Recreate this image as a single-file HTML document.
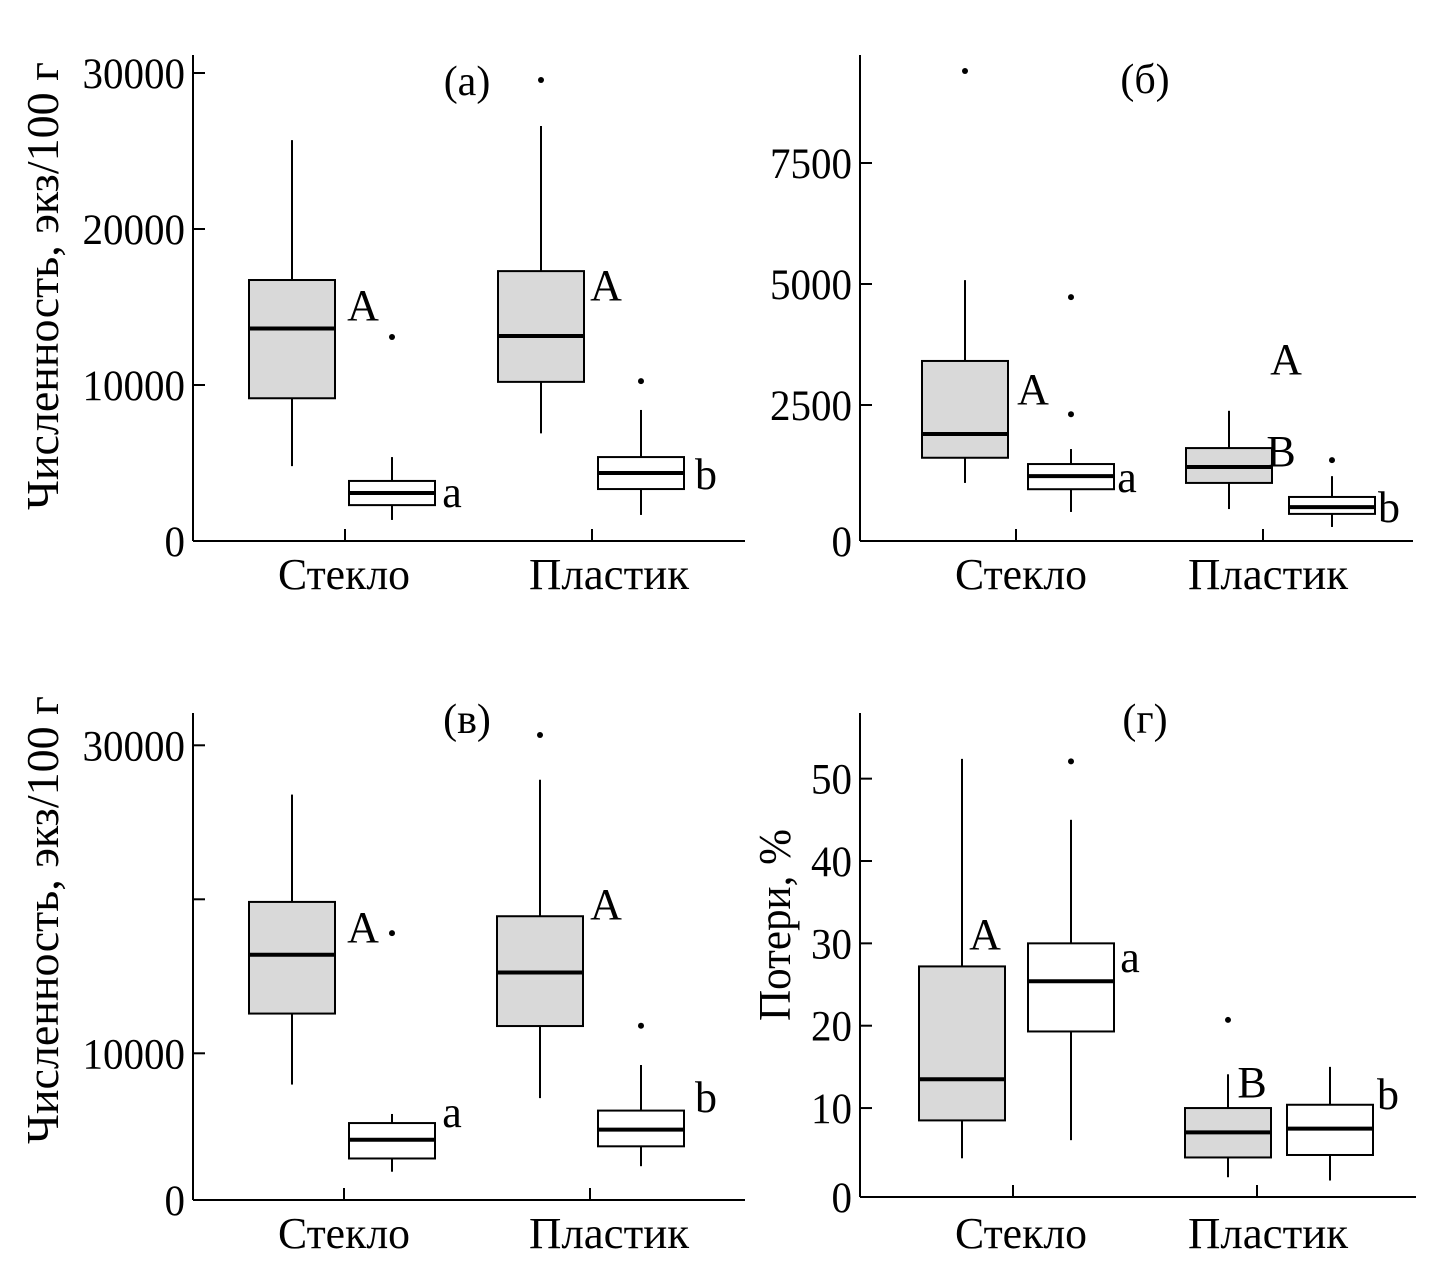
<!DOCTYPE html>
<html><head><meta charset="utf-8"><style>
html,body{margin:0;padding:0;background:#fff;}
svg{display:block;font-family:"Liberation Serif",serif;}
</style></head><body>
<svg id="chart" width="1453" height="1287" viewBox="0 0 1453 1287" xmlns="http://www.w3.org/2000/svg"></svg>
<script>
// ---- data (box order: glass-gray, glass-white, plastic-gray, plastic-white)
const categories = ["Стекло", "Пластик"];
const a_lo  = [4800, 1350, 6900, 1670];
const a_q1  = [9150, 2300, 10200, 3330];
const a_med = [13620, 3080, 13140, 4360];
const a_q3  = [16730, 3850, 17300, 5380];
const a_hi  = [25700, 5380, 26600, 8400];
const a_out = [[], [13080], [29550], [10250]];
const a_ticks = [0, 10000, 20000, 30000];
const a_tickLabels = ["0", "10000", "20000", "30000"];
const a_letters = ["A", "a", "A", "b"];

const b_lo  = [890, 290, 350, -20];
const b_q1  = [1410, 760, 890, 250];
const b_med = [1900, 1030, 1220, 390];
const b_q3  = [3410, 1280, 1610, 600];
const b_hi  = [5080, 1590, 2380, 1030];
const b_out = [[9400], [4730, 2310], [], [1360]];
const b_ticks = [0, 2500, 5000, 7500];
const b_tickLabels = ["0", "2500", "5000", "7500"];
const b_letters = ["A", "a", "B", "b", "A"];

const c_lo  = [7970, 2310, 7090, 2670];
const c_q1  = [12580, 3170, 11770, 3960];
const c_med = [16400, 4390, 15250, 5040];
const c_q3  = [19830, 5470, 18900, 6280];
const c_hi  = [26800, 6060, 27760, 9240];
const c_out = [[], [17800], [30670], [11790]];
const c_ticks = [0, 10000, 20000, 30000];
const c_tickLabels = ["0", "10000", "", "30000"];
const c_letters = ["A", "a", "A", "b"];

const d_lo  = [3.9, 6.1, 1.6, 1.2];
const d_q1  = [8.5, 19.3, 4.0, 4.3];
const d_med = [13.5, 25.4, 7.05, 7.5];
const d_q3  = [27.2, 30.0, 10.0, 10.4];
const d_hi  = [52.4, 45.0, 14.1, 15.0];
const d_out = [[], [52.1], [20.7], []];
const d_ticks = [0, 10, 20, 30, 40, 50];
const d_tickLabels = ["0", "10", "20", "30", "40", "50"];
const d_letters = ["A", "a", "B", "b"];

const NS = "http://www.w3.org/2000/svg";
const svg = document.getElementById("chart");
function mk(tag, attrs, parent, text){
  const e = document.createElementNS(NS, tag);
  for (const k in attrs) e.setAttribute(k, attrs[k]);
  if (text !== undefined) e.textContent = text;
  (parent || svg).appendChild(e);
  return e;
}

const panels = [
  {id:"a", title:"(а)", titleX:467, titleY:95, ax:193, axEnd:745, top:55, axisY:541,
   y0:541, k:0.0156, catX:[345,592], catLabelX:[344,609], catLabelY:589,
   centers:[292,392,541,641],
   lo:a_lo,q1:a_q1,med:a_med,q3:a_q3,hi:a_hi,out:a_out,ticks:a_ticks,tl:a_tickLabels,
   letters:a_letters, letterPos:[[363,320],[452,507],[606,300],[706,489]],
   ylabel:"Численность, экз/100 г", ylx:58, yly:286},
  {id:"b", title:"(б)", titleX:1145, titleY:93, ax:860, axEnd:1413, top:55, axisY:541,
   y0:526, k:0.0484, catX:[1016,1263], catLabelX:[1021,1268], catLabelY:589,
   centers:[965,1071,1229,1332],
   lo:b_lo,q1:b_q1,med:b_med,q3:b_q3,hi:b_hi,out:b_out,ticks:b_ticks,tl:b_tickLabels,
   letters:b_letters, letterPos:[[1033,404],[1127,492],[1281,466],[1389,522],[1286,374]],
   ylabel:null},
  {id:"c", title:"(в)", titleX:467, titleY:733, ax:193, axEnd:745, top:713, axisY:1200,
   y0:1207.3, k:0.0154, catX:[344,590], catLabelX:[344,609], catLabelY:1248,
   centers:[292,392,540,641],
   lo:c_lo,q1:c_q1,med:c_med,q3:c_q3,hi:c_hi,out:c_out,ticks:c_ticks,tl:c_tickLabels,
   letters:c_letters, letterPos:[[363,942],[452,1127],[606,919],[706,1112]],
   ylabel:"Численность, экз/100 г", ylx:58, yly:920},
  {id:"d", title:"(г)", titleX:1145, titleY:733, ax:860, axEnd:1416, top:713, axisY:1197,
   y0:1190.4, k:8.235, catX:[1013,1257], catLabelX:[1021,1268], catLabelY:1248,
   centers:[962,1071,1228,1330],
   lo:d_lo,q1:d_q1,med:d_med,q3:d_q3,hi:d_hi,out:d_out,ticks:d_ticks,tl:d_tickLabels,
   letters:d_letters, letterPos:[[985,949],[1130,972],[1252,1097],[1388,1109]],
   ylabel:"Потери, %", ylx:790, yly:925}
];

panels.forEach(p => {
  const g = mk("g", {});
  
  
  const y = v => p.y0 - v * p.k;
  const boxW = 86;

  const yax = mk("line", {x1:p.ax, y1:p.top, x2:p.ax, y2:p.axisY, stroke:"#000", "stroke-width":2}, g);
  
  
  const xax = mk("line", {x1:p.ax, y1:p.axisY, x2:p.axEnd, y2:p.axisY, stroke:"#000", "stroke-width":2}, g);
  
  

  p.ticks.forEach((t, i) => {
    const ty = y(t);
    if (t !== 0) {
      const tk = mk("line", {x1:p.ax, y1:ty, x2:p.ax+12, y2:ty, stroke:"#000", "stroke-width":2}, g);
      
      
    }
    const lab = p.tl[i];
    if (lab) {
      const ly = (t === 0) ? p.axisY : ty;
      const tx = mk("text", {x:p.ax-8, y:ly+15, "text-anchor":"end", "font-size":43,
        textLength: lab.length*20.5, lengthAdjust:"spacingAndGlyphs"}, g, lab);
      
      
    }
  });

  categories.forEach((c, i) => {
    const tk = mk("line", {x1:p.catX[i], y1:p.axisY, x2:p.catX[i], y2:p.axisY-12, stroke:"#000", "stroke-width":2}, g);
    
    
    const tx = mk("text", {x:p.catLabelX[i], y:p.catLabelY, "text-anchor":"middle", "font-size":44,
      textLength: c.length === 6 ? 132 : 160, lengthAdjust:"spacingAndGlyphs"}, g, c);
    
    
  });

  p.lo.forEach((_, i) => {
    const cx = p.centers[i];
    const gray = (i % 2 === 0);
    const bg = mk("g", {}, g);
    
    
    const w1 = mk("line", {x1:cx, y1:y(p.hi[i]), x2:cx, y2:y(p.q3[i]), stroke:"#000", "stroke-width":2}, bg);
    
    
    const w2 = mk("line", {x1:cx, y1:y(p.q1[i]), x2:cx, y2:y(p.lo[i]), stroke:"#000", "stroke-width":2}, bg);
    
    
    const r = mk("rect", {x:cx-boxW/2, y:y(p.q3[i]), width:boxW, height:y(p.q1[i])-y(p.q3[i]),
      fill: gray ? "#d9d9d9" : "#fff", stroke:"#000", "stroke-width":2}, bg);
    
    
    const m = mk("line", {x1:cx-boxW/2, y1:y(p.med[i]), x2:cx+boxW/2, y2:y(p.med[i]), stroke:"#000", "stroke-width":4}, bg);
    
    
    p.out[i].forEach(o => {
      const d = mk("circle", {cx:cx, cy:y(o), r:3, fill:"#000"}, bg);
      
      
    });
  });

  p.letters.forEach((L, i) => {
    const pos = p.letterPos[i];
    const t = mk("text", {x:pos[0], y:pos[1], "text-anchor":"middle", "font-size":44}, g, L);
    
    
  });

  const tt = mk("text", {x:p.titleX, y:p.titleY, "text-anchor":"middle", "font-size":42}, g, p.title);
  
  

  if (p.ylabel) {
    const len = p.ylabel.length > 12 ? 448 : 192;
    const yl = mk("text", {x:0, y:0, "text-anchor":"middle", "font-size":46,
      transform:`translate(${p.ylx},${p.yly}) rotate(-90)`,
      textLength: len, lengthAdjust:"spacingAndGlyphs"}, g, p.ylabel);
    
    
  }
});
</script>
</body></html>
